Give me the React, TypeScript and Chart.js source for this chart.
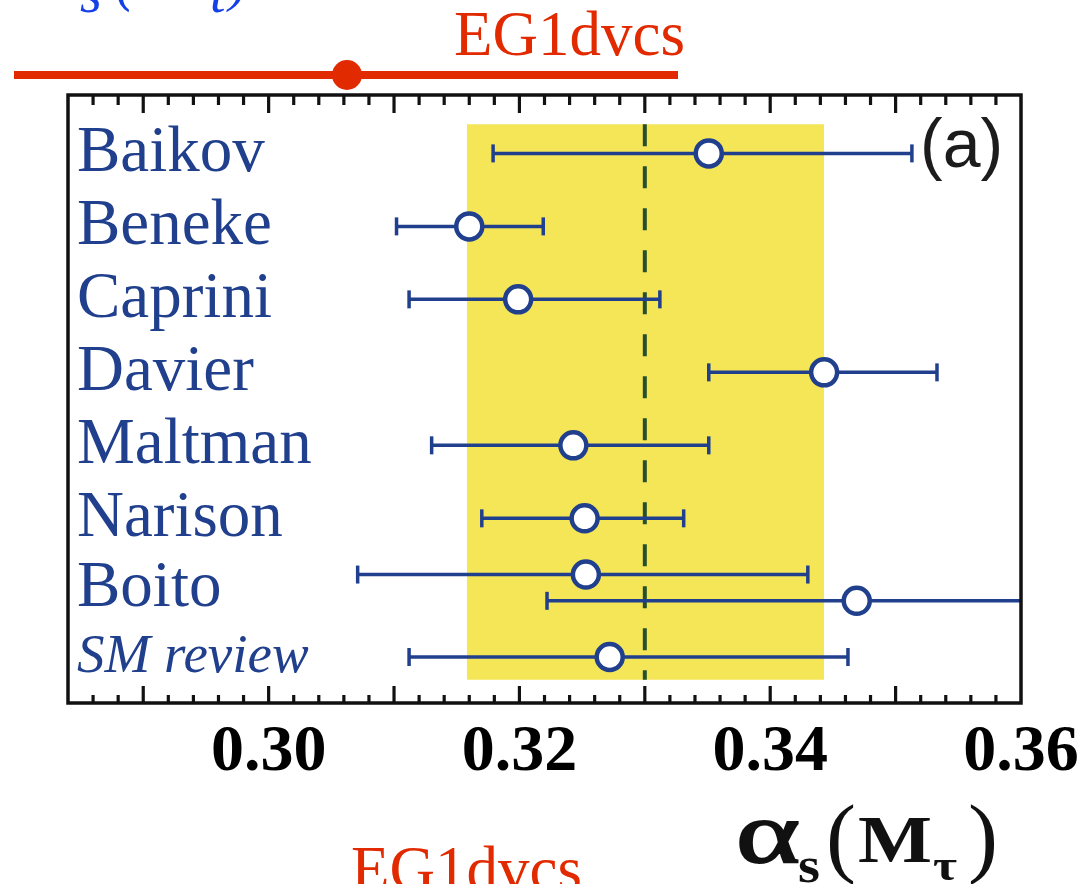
import React, { useEffect, useRef } from 'react';
import { Chart, registerables } from 'chart.js';

Chart.register(...registerables);

// ---- data ----
const NAMES = ['Baikov', 'Beneke', 'Caprini', 'Davier', 'Maltman', 'Narison', 'Boito', 'SM review'];
const LABEL_ROWS = [0.8, 1.8, 2.8, 3.8, 4.8, 5.8, 6.75, 7.7];
const POINT_ROWS = [0.8, 1.8, 2.8, 3.8, 4.8, 5.8, 6.57, 6.93, 7.7];
const CENTRAL = [0.3351, 0.316, 0.3199, 0.3443, 0.3243, 0.3252, 0.3253, 0.3469, 0.3272];
const LOWER = [0.3179, 0.3102, 0.3112, 0.3351, 0.313, 0.317, 0.3071, 0.3222, 0.3112];
const UPPER = [0.3513, 0.3219, 0.3312, 0.3533, 0.3351, 0.3331, 0.343, 0.372, 0.3462];
const BAND_X = [0.3158, 0.3443];
const BAND_ROWS = [0.4, 8.01];
const REF_VALUE = 0.33;
const X_TICK_LABELS = [0.3, 0.32, 0.34, 0.36];
const MAJOR_TICKS = [0.29, 0.3, 0.31, 0.32, 0.33, 0.34, 0.35];
const X_MIN = 0.284;
const X_MAX = 0.36;
const Y_MAX = 8.33;

const NAVY = '#203f8c';
const RED = '#e22a00';
const SERIF = "'Liberation Serif', 'Times New Roman', serif";

function minorTicks(): number[] {
  const out: number[] = [];
  for (let i = 1; i < 38; i++) {
    if (i % 5 === 3) continue;
    out.push(X_MIN + 0.002 * i);
  }
  return out;
}

function fitText(
  ctx: CanvasRenderingContext2D,
  text: string,
  font: string,
  x: number,
  baseline: number,
  width: number,
  stroke = 0
) {
  ctx.font = font;
  const w = ctx.measureText(text).width;
  ctx.save();
  ctx.translate(x, baseline);
  ctx.scale(width / w, 1);
  ctx.textAlign = 'left';
  ctx.textBaseline = 'alphabetic';
  ctx.fillText(text, 0, 0);
  if (stroke > 0) {
    ctx.strokeStyle = ctx.fillStyle as string;
    ctx.lineWidth = stroke;
    ctx.strokeText(text, 0, 0);
  }
  ctx.restore();
}

const decor = {
  id: 'decor',
  afterDatasetsDraw(chart: any) {
    const { ctx, chartArea: a, scales } = chart;
    const x = scales.x;
    ctx.save();
    ctx.strokeStyle = '#111';
    ctx.lineCap = 'butt';
    ctx.lineWidth = 3.2;
    const seg = (x1: number, y1: number, x2: number, y2: number) => {
      ctx.beginPath();
      ctx.moveTo(x1, y1);
      ctx.lineTo(x2, y2);
      ctx.stroke();
    };
    for (const v of MAJOR_TICKS) {
      const px = x.getPixelForValue(v);
      seg(px, a.bottom, px, a.bottom - 17);
      seg(px, a.top, px, a.top + 18);
    }
    for (const v of minorTicks()) {
      const px = x.getPixelForValue(v);
      seg(px, a.bottom, px, a.bottom - 8);
      seg(px, a.top, px, a.top + 10);
    }
    ctx.lineWidth = 3.5;
    ctx.strokeRect(a.left, a.top, a.right - a.left, a.bottom - a.top);

    // panel tag
    ctx.fillStyle = '#1c1c1c';
    ctx.font = "68px 'Liberation Sans', Arial, sans-serif";
    ctx.textAlign = 'left';
    ctx.textBaseline = 'alphabetic';
    ctx.fillText('(a)', 920, 167);
    ctx.restore();
  },
  afterDraw(chart: any) {
    const { ctx } = chart;
    ctx.save();
    // overlapping decorations from the page
    ctx.fillStyle = '#1440e8';
    ctx.font = `italic 56px ${SERIF}`;
    ctx.fillText('s', 80, 12);
    ctx.fillText('(', 116, 0);
    ctx.fillText('t', 210, 12);
    ctx.fillText(')', 229, 0);

    ctx.fillStyle = RED;
    ctx.font = `63px ${SERIF}`;
    ctx.fillText('EG1dvcs', 454, 55);
    ctx.fillText('EG1dvcs', 351, 890);
    ctx.strokeStyle = RED;
    ctx.lineWidth = 8;
    ctx.beginPath();
    ctx.moveTo(14, 75);
    ctx.lineTo(678, 75);
    ctx.stroke();
    ctx.beginPath();
    ctx.arc(347, 75, 15, 0, Math.PI * 2);
    ctx.fill();

    // axis title  alpha_s (M_tau)
    ctx.fillStyle = '#111';
    fitText(ctx, 'α', `86px ${SERIF}`, 736, 862, 64, 2);
    fitText(ctx, 's', `bold 50px ${SERIF}`, 798, 882, 22);
    fitText(ctx, '(', `88px ${SERIF}`, 826, 866, 30);
    fitText(ctx, 'M', `bold 68px ${SERIF}`, 858, 862, 74);
    fitText(ctx, 'τ', `bold 44px ${SERIF}`, 933, 880, 24);
    fitText(ctx, ')', `88px ${SERIF}`, 968, 866, 30);
    ctx.restore();
  },
};

export default function App() {
  const ref = useRef<HTMLCanvasElement | null>(null);
  useEffect(() => {
    if (!ref.current) return;
    const errorSets = CENTRAL.map((_, i) => ({
      type: 'line' as const,
      data: [
        { x: LOWER[i], y: POINT_ROWS[i] },
        { x: UPPER[i], y: POINT_ROWS[i] },
      ],
      borderColor: NAVY,
      borderWidth: 3.5,
      pointStyle: 'line' as const,
      rotation: 90,
      pointRadius: 9,
      pointBorderWidth: 3.5,
      pointBorderColor: NAVY,
      pointHoverRadius: 9,
      fill: false,
      order: 1,
    }));
    const chart = new Chart(ref.current, {
      type: 'line',
      data: {
        datasets: [
          {
            type: 'line',
            data: CENTRAL.map((v, i) => ({ x: v, y: POINT_ROWS[i] })),
            showLine: false,
            pointStyle: 'circle',
            pointRadius: 13,
            pointHoverRadius: 13,
            pointBorderWidth: 4.5,
            pointBackgroundColor: '#ffffff',
            pointBorderColor: NAVY,
            order: 0,
          },
          ...errorSets,
          {
            type: 'line',
            data: [
              { x: REF_VALUE, y: BAND_ROWS[0] },
              { x: REF_VALUE, y: BAND_ROWS[1] },
            ],
            borderColor: '#27502a',
            borderWidth: 4,
            borderDash: [22, 20],
            pointRadius: 0,
            fill: false,
            order: 2,
          },
          {
            type: 'line',
            data: [
              { x: BAND_X[0], y: BAND_ROWS[0] },
              { x: BAND_X[1], y: BAND_ROWS[0] },
            ],
            borderWidth: 0,
            borderColor: 'rgba(0,0,0,0)',
            backgroundColor: '#f5e658',
            pointRadius: 0,
            fill: { value: BAND_ROWS[1] },
            order: 3,
          },
        ] as any,
      },
      options: {
        animation: false,
        responsive: false,
        maintainAspectRatio: false,
        layout: { padding: { left: 68, right: 56, top: 95, bottom: 0 } },
        plugins: { legend: { display: false }, tooltip: { enabled: false } },
        events: [],
        scales: {
          x: {
            type: 'linear',
            min: X_MIN,
            max: X_MAX,
            grid: { display: false },
            border: { display: false },
            afterBuildTicks: (s: any) => {
              s.ticks = X_TICK_LABELS.map((v) => ({ value: v }));
            },
            afterFit: (s: any) => {
              s.height = 181;
              s.paddingLeft = 0;
              s.paddingRight = 0;
            },
            ticks: {
              autoSkip: false,
              maxRotation: 0,
              padding: 2,
              color: '#000',
              font: { family: SERIF, size: 66, weight: 'bold' },
              callback: (v: any) => Number(v).toFixed(2),
            },
          },
          y: {
            type: 'linear',
            reverse: true,
            min: 0,
            max: Y_MAX,
            grid: { display: false },
            border: { display: false },
            afterBuildTicks: (s: any) => {
              s.ticks = LABEL_ROWS.map((v) => ({ value: v }));
            },
            afterFit: (s: any) => {
              s.width = 0;
              s.paddingTop = 0;
              s.paddingBottom = 0;
            },
            ticks: {
              autoSkip: false,
              mirror: true,
              padding: 9,
              labelOffset: 1,
              color: NAVY,
              font: (c: any) =>
                c.index === NAMES.length - 1
                  ? { family: SERIF, size: 55, style: 'italic' }
                  : { family: SERIF, size: 65 },
              callback: (_v: any, i: number) => NAMES[i],
            },
          },
        },
      },
      plugins: [decor],
    });
    return () => chart.destroy();
  }, []);
  return (
    <div style={{ position: 'absolute', left: 0, top: 0, width: 1077, height: 884, background: '#fff' }}>
      <canvas ref={ref} width={1077} height={884} style={{ width: 1077, height: 884, display: 'block' }} />
    </div>
  );
}
